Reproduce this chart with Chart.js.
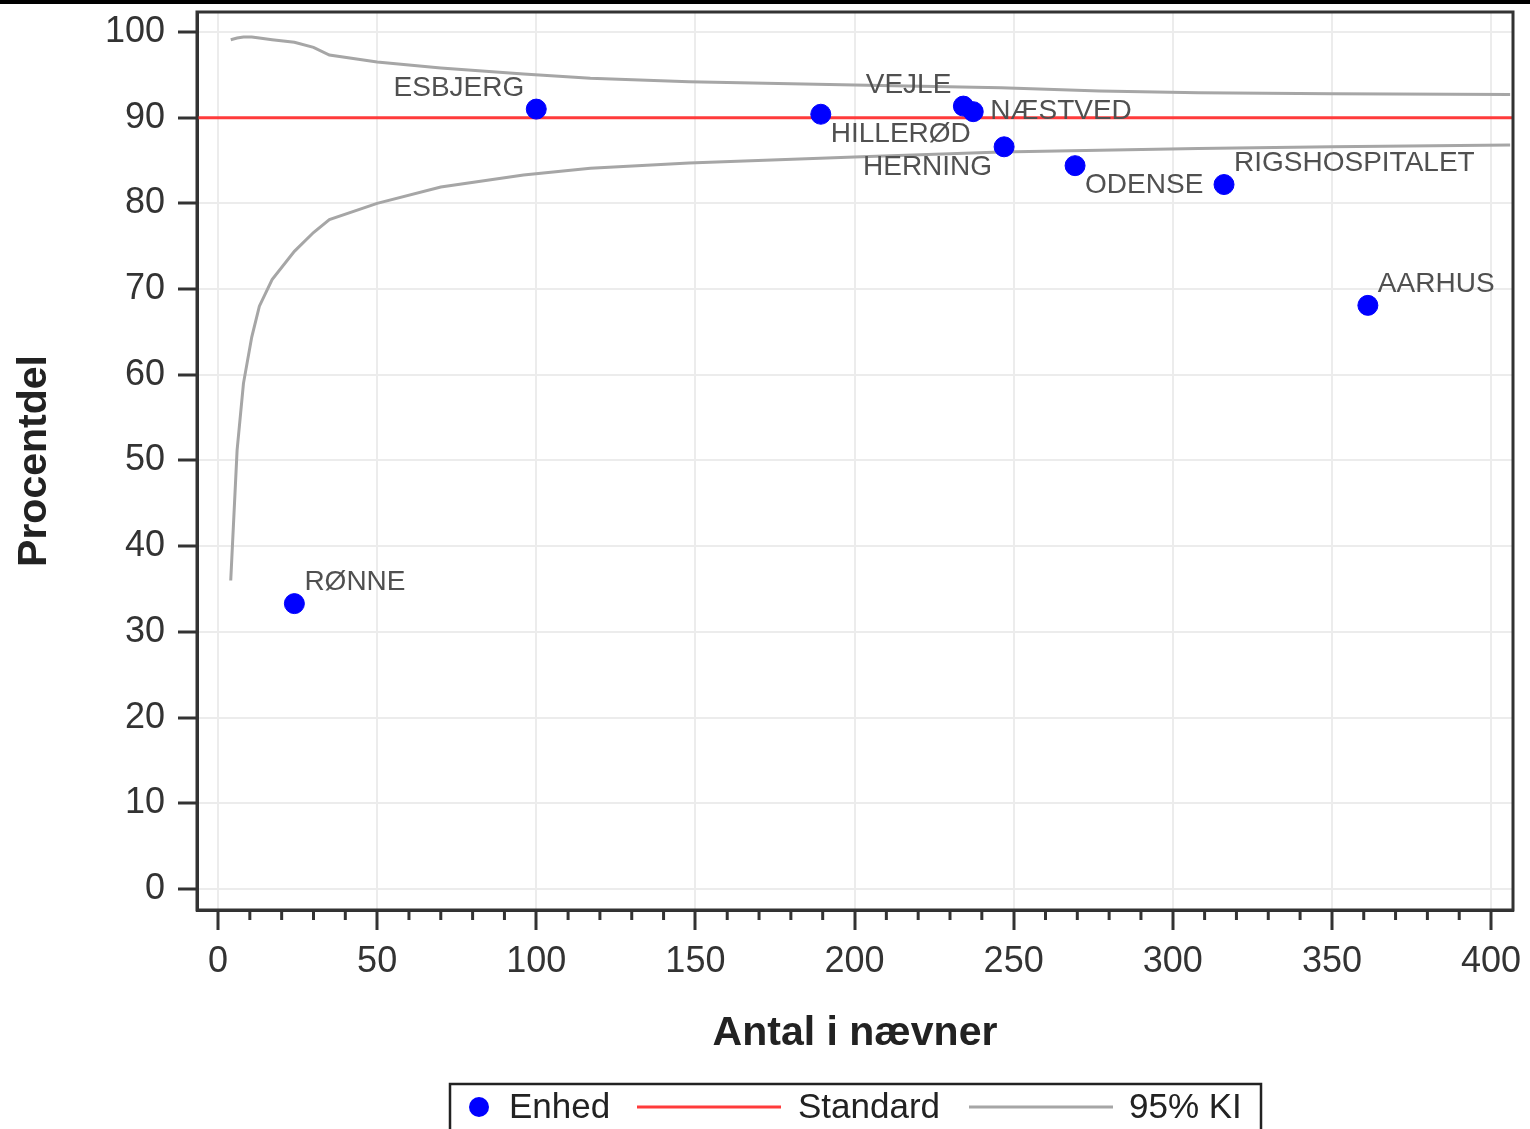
<!DOCTYPE html>
<html>
<head>
<meta charset="utf-8">
<script src="https://cdn.jsdelivr.net/npm/chart.js@4.4.1/dist/chart.umd.min.js"></script>
<style>
  body { margin: 0; background: #fff; }
  #wrap { position: relative; width: 1530px; height: 1129px; overflow: hidden; }
  #topbar { position: absolute; left: 0; top: 0; width: 1530px; height: 4px; background: #000; }
</style>
</head>
<body>
<div id="wrap">
  <canvas id="funnelChart"></canvas>
  <div id="topbar"></div>
</div>
<script>
// enheder (afdelinger)
const units = ["RØNNE", "ESBJERG", "HILLERØD", "VEJLE", "NÆSTVED", "HERNING", "ODENSE", "RIGSHOSPITALET", "AARHUS"];
const unitN = [24, 100, 189.4, 234.2, 237.3, 247, 269.3, 316.1, 361.3];
const unitPct = [33.3, 91.0, 90.4, 91.35, 90.7, 86.6, 84.4, 82.2, 68.1];
// hvor teksten skal stå i forhold til punktet
const labelSide = ["ne", "nw", "se", "nw", "e", "sw", "se", "ne", "ne"];

// standard
const standardPct = 90;

// 95% KI kurver (aflæst)
const ciN = [4, 6, 8, 10.6, 13, 17, 24, 30, 35, 50, 70, 96, 117, 148, 200, 246, 277, 308, 350, 406];
const ciUpper = [99.1, 99.3, 99.4, 99.4, 99.3, 99.1, 98.8, 98.2, 97.3, 96.5, 95.8, 95.1, 94.6, 94.2, 93.8, 93.5, 93.1, 92.9, 92.8, 92.7];
const ciLower = [36.0, 51.2, 59.0, 64.4, 68.0, 71.1, 74.4, 76.6, 78.1, 80.0, 81.9, 83.3, 84.1, 84.7, 85.4, 86.0, 86.2, 86.4, 86.6, 86.8];

const xMin = -6.6, xMax = 406.9;
const yMin = -2.45, yMax = 102.33;

const FONT = "'Liberation Sans', Arial, sans-serif";

// punkt-etiketter
const pointLabels = {
  id: "pointLabels",
  afterDatasetsDraw(chart) {
    const meta = chart.getDatasetMeta(0);
    const c = chart.ctx;
    c.save();
    c.font = "28px " + FONT;
    c.fillStyle = "#505050";
    c.textBaseline = "middle";
    meta.data.forEach((el, i) => {
      const side = labelSide[i];
      let dx = 10, dy = 0;
      c.textAlign = "left";
      if (side.includes("w")) { dx = -12; c.textAlign = "right"; }
      if (side === "e") dx = 17;
      if (side.includes("n")) dy = -21;
      if (side.includes("s")) dy = 20;
      c.fillText(units[i], el.x + dx, el.y + dy);
    });
    c.restore();
  }
};

// ramme + små ticks + legende
const frameAndLegend = {
  id: "frameAndLegend",
  afterDraw(chart) {
    const c = chart.ctx;
    const a = chart.chartArea;
    const xs = chart.scales.x;
    c.save();
    // minor ticks
    c.strokeStyle = "#333";
    c.lineWidth = 3;
    for (let v = 0; v <= 400; v += 10) {
      if (v % 50 === 0) continue;
      const px = xs.getPixelForValue(v);
      c.beginPath();
      c.moveTo(px, a.bottom);
      c.lineTo(px, a.bottom + 10);
      c.stroke();
    }
    // ramme
    c.strokeRect(a.left, a.top, a.right - a.left, a.bottom - a.top);

    // legende
    const w = 811;
    const left = Math.round((a.left + a.right) / 2 - w / 2);
    const top = 1084;
    const cy = 1107;
    c.lineWidth = 2.5;
    c.strokeStyle = "#222";
    c.strokeRect(left, top, w, 70);
    c.fillStyle = "#0000ff";
    c.beginPath();
    c.arc(left + 29, cy, 10, 0, Math.PI * 2);
    c.fill();
    c.font = "35px " + FONT;
    c.fillStyle = "#222";
    c.textAlign = "left";
    c.textBaseline = "middle";
    c.fillText("Enhed", left + 59, cy + 1);
    c.lineWidth = 3;
    c.strokeStyle = "#ff3b3b";
    c.beginPath(); c.moveTo(left + 187, cy); c.lineTo(left + 331, cy); c.stroke();
    c.fillText("Standard", left + 348, cy + 1);
    c.strokeStyle = "#a6a6a6";
    c.beginPath(); c.moveTo(left + 519, cy); c.lineTo(left + 663, cy); c.stroke();
    c.fillText("95% KI", left + 679, cy + 1);
    c.restore();
  }
};

const ctx = document.getElementById("funnelChart").getContext("2d");
const funnelChart = new Chart(ctx, {
  type: "scatter",
  data: {
    datasets: [
      {
        label: "Enhed",
        data: units.map((u, i) => ({ x: unitN[i], y: unitPct[i] })),
        backgroundColor: "#0000ff",
        borderColor: "#0000ff",
        pointRadius: 10,
        pointHoverRadius: 10,
      },
      {
        label: "Standard",
        type: "line",
        data: [{ x: xMin, y: standardPct }, { x: xMax, y: standardPct }],
        borderColor: "#ff3b3b",
        borderWidth: 3,
        pointRadius: 0,
        fill: false,
      },
      {
        label: "95% KI",
        type: "line",
        data: ciN.map((n, i) => ({ x: n, y: ciUpper[i] })),
        borderColor: "#a6a6a6",
        borderWidth: 3,
        pointRadius: 0,
        tension: 0,
        fill: false,
      },
      {
        label: "95% KI nedre",
        type: "line",
        data: ciN.map((n, i) => ({ x: n, y: ciLower[i] })),
        borderColor: "#a6a6a6",
        borderWidth: 3,
        pointRadius: 0,
        tension: 0,
        fill: false,
      },
    ],
  },
  options: {
    responsive: true,
    maintainAspectRatio: false,
    animation: false,
    layout: { padding: { top: 12, right: 17, bottom: 71, left: 0 } },
    scales: {
      x: {
        type: "linear",
        min: xMin,
        max: xMax,
        afterFit: (scale) => { scale.height = 148; scale.paddingLeft = 0; scale.paddingRight = 0; },
        ticks: {
          stepSize: 10,
          includeBounds: false,
          autoSkip: false,
          maxRotation: 0,
          padding: 10,
          color: "#333",
          font: { family: FONT, size: 36 },
          callback: (v) => (v % 50 === 0 ? v : ""),
        },
        grid: {
          color: (c) => (c.tick && c.tick.value % 50 === 0 ? "#ececec" : "rgba(0,0,0,0)"),
          tickColor: (c) => (c.tick && c.tick.value % 50 === 0 ? "#333" : "rgba(0,0,0,0)"),
          lineWidth: 2,
          tickLength: 20,
          tickWidth: 3,
        },
        border: { color: "#333", width: 3 },
        title: {
          display: true,
          text: "Antal i nævner",
          color: "#222",
          font: { family: FONT, size: 41, weight: "bold" },
          padding: { top: 0, bottom: 0 },
        },
      },
      y: {
        min: yMin,
        max: yMax,
        afterFit: (scale) => { scale.width = 197; scale.paddingTop = 0; scale.paddingBottom = 0; },
        ticks: {
          stepSize: 10,
          includeBounds: false,
          padding: 13,
          color: "#333",
          font: { family: FONT, size: 36 },
        },
        grid: {
          color: "#ececec",
          lineWidth: 2,
          tickColor: "#333",
          tickLength: 19,
          tickWidth: 3,
        },
        border: { color: "#333", width: 3 },
        title: {
          display: true,
          text: "Procentdel",
          color: "#222",
          font: { family: FONT, size: 41, weight: "bold" },
          padding: { top: 10, bottom: 0 },
        },
      },
    },
    plugins: {
      legend: { display: false },
      tooltip: { enabled: false },
    },
  },
  plugins: [pointLabels, frameAndLegend],
});
</script>
</body>
</html>
